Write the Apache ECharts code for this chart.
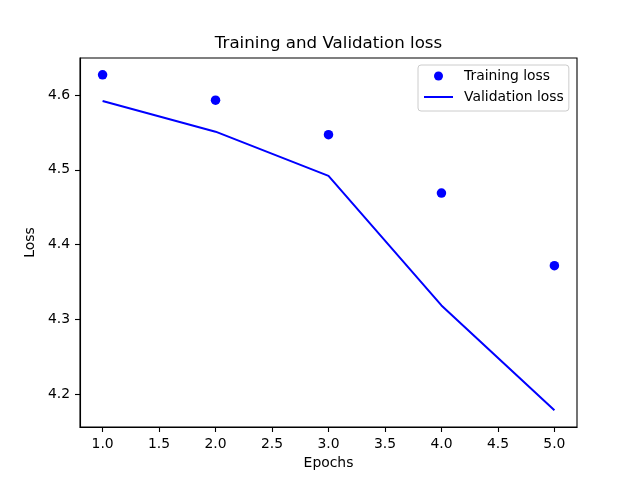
<!DOCTYPE html>
<html>
<head>
<meta charset="utf-8">
<script src="https://cdn.jsdelivr.net/npm/echarts@6/dist/echarts.min.js"></script>
<style>
html,body{margin:0;padding:0;background:#fff;}
#chart{width:640px;height:480px;}
</style>
</head>
<body>
<div id="chart"></div>
<script>
const epochs = [1, 2, 3, 4, 5];
const trainingLoss = [4.627, 4.593, 4.547, 4.469, 4.372];
const validationLoss = [4.592, 4.551, 4.492, 4.319, 4.179];
const xTicks = [1.0, 1.5, 2.0, 2.5, 3.0, 3.5, 4.0, 4.5, 5.0];
const yTicks = [4.2, 4.3, 4.4, 4.5, 4.6];

const FONT = 'DejaVu Sans';
const all = trainingLoss.concat(validationLoss);
const yLo = Math.min(...all), yHi = Math.max(...all);
const yPad = (yHi - yLo) * 0.05;
const xLo = Math.min(...epochs), xHi = Math.max(...epochs);
const xPad = (xHi - xLo) * 0.05;

const chart = echarts.init(document.getElementById('chart'), null, {renderer: 'canvas'});
chart.setOption({
  backgroundColor: '#ffffff',
  animation: false,
  title: {
    text: 'Training and Validation loss',
    left: 328.5,
    textAlign: 'center',
    top: 35,
    padding: 0,
    textStyle: {fontFamily: FONT, fontSize: 16.67, fontWeight: 'normal', color: '#000'}
  },
  legend: {
    left: 418,
    top: 65,
    orient: 'vertical',
    itemWidth: 29,
    itemHeight: 9,
    itemGap: 5,
    padding: [3, 5, 6, 5],
    borderColor: '#cccccc',
    borderWidth: 1,
    borderRadius: 3,
    backgroundColor: 'rgba(255,255,255,0.8)',
    textStyle: {fontFamily: FONT, fontSize: 13.9, color: '#000', lineHeight: 16, padding: [0, 0, 0, 6]},
    data: [
      {name: 'Training loss', itemStyle: {opacity: 1}},
      {name: 'Validation loss', itemStyle: {opacity: 0}}
    ]
  },
  grid: {
    left: 80, right: 63, top: 58, bottom: 53,
    show: true, borderColor: '#000', borderWidth: 1.1, backgroundColor: 'transparent'
  },
  xAxis: {
    type: 'value',
    min: xLo - xPad,
    max: xHi + xPad,
    name: 'Epochs',
    nameLocation: 'middle',
    nameGap: 29,
    nameTextStyle: {fontFamily: FONT, fontSize: 13.9, color: '#000'},
    axisLine: {show: true, lineStyle: {color: '#000', width: 1.1}},
    axisTick: {show: true, length: 5, customValues: xTicks, lineStyle: {color: '#000', width: 1.1}},
    axisLabel: {
      customValues: xTicks, margin: 10,
      fontFamily: FONT, fontSize: 13.9, color: '#000',
      formatter: v => Number(v).toFixed(1)
    },
    splitLine: {show: false}
  },
  yAxis: {
    type: 'value',
    min: yLo - yPad,
    max: yHi + yPad,
    name: 'Loss',
    nameLocation: 'middle',
    nameGap: 32,
    nameTextStyle: {fontFamily: FONT, fontSize: 13.9, color: '#000'},
    axisLine: {show: true, lineStyle: {color: '#000', width: 1.1}},
    axisTick: {show: true, length: 5, customValues: yTicks, lineStyle: {color: '#000', width: 1.1}},
    axisLabel: {
      customValues: yTicks, margin: 10,
      fontFamily: FONT, fontSize: 13.9, color: '#000',
      formatter: v => Number(v).toFixed(1)
    },
    splitLine: {show: false}
  },
  series: [
    {
      name: 'Training loss',
      type: 'scatter',
      symbol: 'circle',
      symbolSize: 9.5,
      itemStyle: {color: '#0000ff', opacity: 1},
      data: epochs.map((e, i) => [e, trainingLoss[i]])
    },
    {
      name: 'Validation loss',
      type: 'line',
      symbol: 'none',
      showSymbol: false,
      lineStyle: {color: '#0000ff', width: 2},
      itemStyle: {color: '#0000ff'},
      data: epochs.map((e, i) => [e, validationLoss[i]])
    }
  ]
});
</script>
</body>
</html>
